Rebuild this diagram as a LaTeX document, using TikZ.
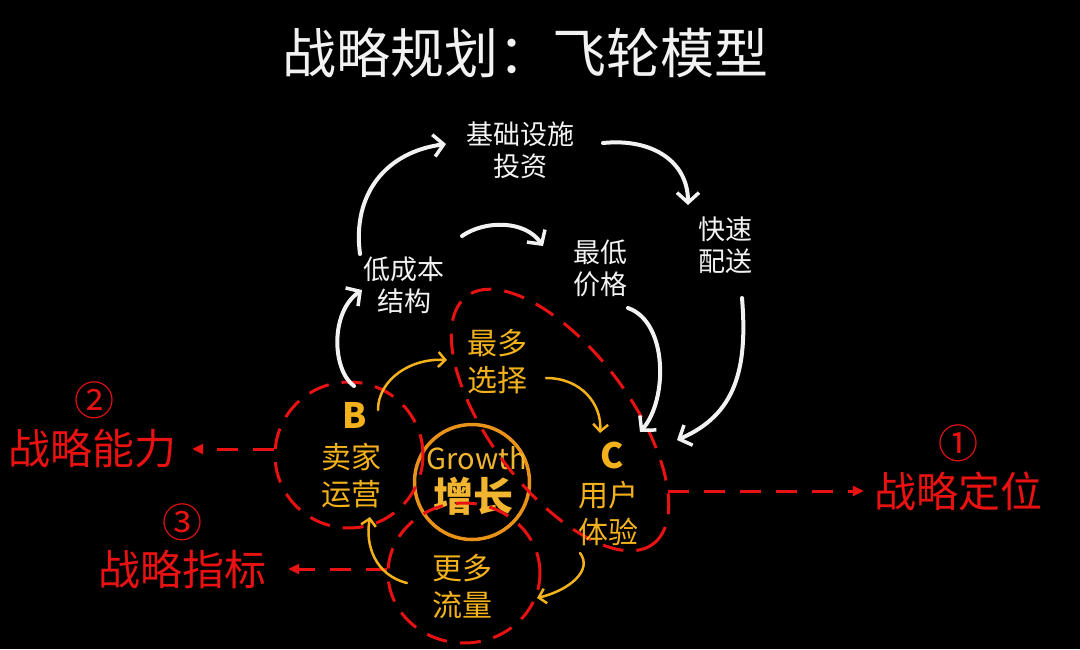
\documentclass[tikz,border=0pt]{standalone}
\usepackage{fontspec}
\setmainfont{Noto Sans CJK SC}
\usetikzlibrary{arrows.meta,shapes.geometric}
\definecolor{rd}{HTML}{E81212}
\definecolor{yl}{HTML}{F3B21B}
\definecolor{og}{HTML}{E8921A}
\definecolor{gt}{HTML}{F2B530}
\definecolor{wt}{HTML}{F2F2F2}
\begin{document}
\begin{tikzpicture}[x=1pt,y=-1pt,
  titletext/.style={text=wt, inner sep=0pt, font=\fontsize{54}{60}\selectfont},
  wlabel/.style={text=wt, align=center, inner sep=0pt, font=\fontsize{27}{32}\selectfont},
  ylabel/.style={text=yl, align=center, inner sep=0pt, font=\fontsize{30}{37}\selectfont},
  rlabel/.style={text=rd, inner sep=0pt, font=\fontsize{42}{48}\selectfont},
  rnum/.style={text=rd, inner sep=0pt, font=\fontsize{40}{44}\selectfont},
  letter/.style={text=yl, inner sep=0pt, font=\fontsize{35}{40}\selectfont\bfseries},
  ring/.style={draw=rd, line width=3pt, dash pattern=on 21pt off 13pt, inner sep=0pt, ellipse},
  rline/.style={draw=rd, line width=3pt, dash pattern=on 21pt off 15pt, -{Triangle[length=11pt,width=10pt]}},
  warrow/.style={draw=wt, line width=4pt, line cap=round, -{Straight Barb[length=10pt,width=22pt,line width=3.5pt]}},
  yarrow/.style={draw=yl, line width=2.5pt, line cap=round, -{Straight Barb[length=7pt,width=15pt,line width=2.5pt]}}
]
\useasboundingbox (0,0) rectangle (1080,649);
\fill[black] (0,0) rectangle (1080,649);

% title
\node[titletext] (title) at (525,53) {战略规划：飞轮模型};

% white labels
\node[wlabel] (infra) at (520,150) {基础设施\\投资};
\node[wlabel] (fast) at (725,245) {快速\\配送};
\node[wlabel] (price) at (600,268) {最低\\价格};
\node[wlabel] (cost) at (404,285) {低成本\\结构};

% growth core
\node[circle, draw=og, line width=3.5pt, minimum size=115pt, inner sep=0pt] (gc) at (472,482) {};
\node[text=gt, inner sep=0pt, font=\fontsize{29}{32}\selectfont] (gtxt) at (477,458) {Growth};
\node[text=gt, inner sep=0pt, font=\fontsize{40}{44}\selectfont\bfseries] (zz) at (473,496) {增长};

% red dashed rings
\node[ring, minimum width=148pt, minimum height=146pt] (Bc) at (349,455) {};
\node[ring, minimum width=310pt, minimum height=140pt, rotate=-53] (Cc) at (560,420) {};
\node[ring, minimum width=152pt, minimum height=140pt] (Fc) at (464,573) {};

% yellow labels
\node[ylabel] (choice) at (497,362) {最多\\选择};
\node[letter] (Bl) at (355,415) {B};
\node[ylabel] (seller) at (351,476) {卖家\\运营};
\node[letter] (Cl) at (612,455) {C};
\node[ylabel] (user) at (608,513) {用户\\体验};
\node[ylabel] (traffic) at (462,587) {更多\\流量};

% red side labels
\node[rnum] (n2) at (94,400) {②};
\node[rlabel] (cap2) at (93,449) {战略能力};
\node[rnum] (n3) at (182,522) {③};
\node[rlabel] (cap3) at (182,569) {战略指标};
\node[rnum] (n1) at (958,443) {①};
\node[rlabel] (cap1) at (958,491) {战略定位};
\coordinate (cR) at (668,491);

% red connectors
\draw[rline, shorten >=15pt] (cap2.east -| Bc.west) -- (cap2.east);
\draw[rline, shorten >=22pt] (cap3.east -| Fc.west) -- (cap3.east);
\draw[rline, shorten >=10pt] (cR) -- (cap1.west);

% white arrows
\draw[warrow] ([shift={(-44,-31)}]cost.center) .. controls +(-8,-60) and +(-60,8) .. ([shift={(-74,-6)}]infra.center);
\draw[warrow] ([shift={(83,-7)}]infra.center) .. controls +(50,-5) and +(0,-43) .. ([shift={(-37,-40)}]fast.center);
\draw[warrow] ([shift={(17,53)}]fast.center) .. controls +(6,72) and +(58,-25) .. ([shift={(65,-15)}]Cl.center);
\draw[warrow] ([shift={(28,40)}]price.center) .. controls +(40,14) and +(28,-32) .. ([shift={(28,-23)}]Cl.center);
\draw[warrow] ([shift={(58,-49)}]cost.center) .. controls +(23,-16) and +(-18,-26) .. ([shift={(-57,-22)}]price.center);
\draw[warrow] ([shift={(-1,-29)}]Bl.center) .. controls +(-22,-16) and +(-32,22) .. ([shift={(-42,5)}]cost.center);

% yellow arrows
\draw[yarrow] ([shift={(23,-5)}]Bl.center) .. controls +(0,-30) and +(-37,-2) .. ([shift={(-50,-2)}]choice.center);
\draw[yarrow] ([shift={(49,16)}]choice.center) .. controls +(36,0) and +(2,-28) .. ([shift={(-12,-22)}]Cl.center);
\draw[yarrow] ([shift={(-28,40)}]user.center) .. controls +(13,17) and +(33,-8) .. ([shift={(75,11)}]traffic.center);
\draw[yarrow] ([shift={(-55,-4)}]traffic.center) .. controls +(-32,-8) and +(-5,28) .. ([shift={(19,41)}]seller.center);
\end{tikzpicture}
\end{document}
